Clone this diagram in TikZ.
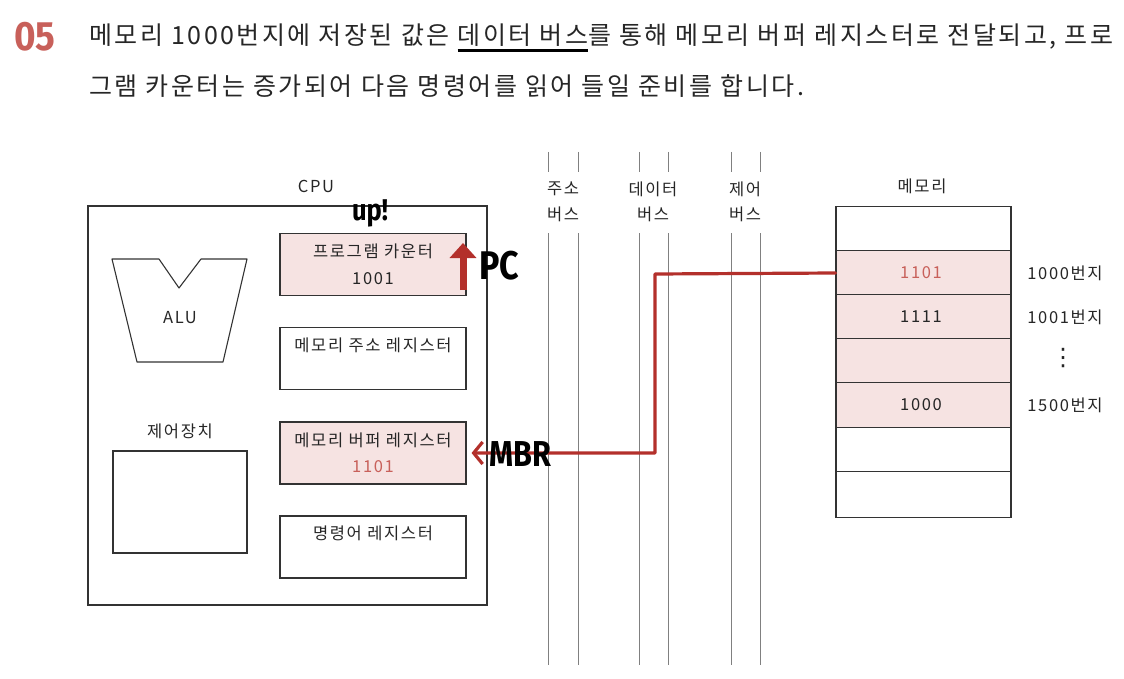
\documentclass[tikz,border=0pt]{standalone}
\usepackage{fontspec}
\setmainfont{Noto Sans CJK KR}
\newfontfamily\parafont[LetterSpace=10]{Noto Sans CJK KR}
\newfontfamily\lblfont[LetterSpace=10]{Noto Sans CJK KR}
\newfontfamily\handfont[FakeStretch=0.85]{Fira Sans}
\newfontfamily\numfont[FakeStretch=0.9]{Fira Sans}
\newfontfamily\symfont{DejaVu Sans}
\usetikzlibrary{arrows.meta}
\definecolor{redline}{HTML}{B3302B}
\definecolor{pinkfill}{HTML}{F6E3E2}
\definecolor{numred}{HTML}{C8605A}
\definecolor{boxline}{HTML}{333333}
\definecolor{busline}{HTML}{808080}
\definecolor{txt}{HTML}{262626}
\newcommand\myul[1]{\setbox0\hbox{#1}\rlap{\raisebox{-7pt}{\color{black}\rule{\wd0}{2.8pt}}}\box0}
\tikzset{
  box/.style={draw=boxline, line width=1.1pt, inner sep=0pt},
  regbox/.style={box, minimum width=186pt, minimum height=62pt},
  membox/.style={box, minimum width=175pt, minimum height=44.3pt},
  lbl/.style={text=txt, font=\lblfont\fontsize{16.5}{16.5}\selectfont, inner sep=0pt},
  para/.style={text=txt, font=\parafont\fontsize{25}{25}\selectfont, inner sep=0pt, anchor=west},
  hand/.style={font=\handfont\bfseries\fontsize{#1}{#1}\selectfont, inner sep=0pt},
  bus/.style={draw=busline, line width=0.9pt},
  redarrow/.style={draw=redline, line width=3.2pt, line cap=round, line join=round, -{Straight Barb[length=9pt,width=22pt,line width=3.2pt]}}
}
\begin{document}
\begin{tikzpicture}[x=1pt,y=-1pt]
\useasboundingbox (0,0) rectangle (1124,679);
% heading
\node[text=numred, font=\numfont\bfseries\fontsize{41}{41}\selectfont, inner sep=0pt, anchor=west] (num) at (14,37) {05};
\node[para] (l1) at (89,38) {메모리 1000번지에 저장된 값은 \myul{데이터 버스}를 통해 메모리 버퍼 레지스터로 전달되고, 프로};
\node[para] (l2) at (89,86) {그램 카운터는 증가되어 다음 명령어를 읽어 들일 준비를 합니다.};

% CPU
\node[lbl] (cpulbl) at (316,186) {CPU};
\node[box, minimum width=399pt, minimum height=399pt] (cpu) at (287.5,405.5) {};
% ALU
\draw[draw=boxline, line width=1.1pt, line join=round] (112,259) -- (159,259) -- (179,288) -- (201,259) -- (247,259) -- (223,362) -- (137,362) -- cycle;
\node[lbl] (alu) at (180,318) {ALU};
% control unit
\node[lbl] (ctllbl) at (180,431) {제어장치};
\node[box, minimum width=134pt, minimum height=102pt] (ctl) at (180,502) {};
% registers
\node[regbox, fill=pinkfill] (pc) at (373,264.5) {};
\node[lbl] (pct) at (373,251) {프로그램 카운터};
\node[lbl] (pcv) at (373,279) {1001};
\node[regbox] (mar) at (373,358.5) {};
\node[lbl] (mart) at (373,345) {메모리 주소 레지스터};
\node[regbox, fill=pinkfill] (mbr) at (373,453) {};
\node[lbl] (mbrt) at (373,440) {메모리 버퍼 레지스터};
\node[lbl, text=numred] (mbrv) at (373,467) {1101};
\node[regbox] (ir) at (373,547) {};
\node[lbl] (irt) at (373,533) {명령어 레지스터};

% buses
\foreach \x in {548,578,639,668,731,760}{
  \draw[bus] (\x,152) -- (\x,172);
  \draw[bus] (\x,233) -- (\x,665);
}
\node[lbl] (ab1) at (563,189) {주소};
\node[lbl] (ab2) at (563,214) {버스};
\node[lbl] (db1) at (653,189) {데이터};
\node[lbl] (db2) at (653,214) {버스};
\node[lbl] (cb1) at (745,189) {제어};
\node[lbl] (cb2) at (745,214) {버스};

% memory
\node[lbl] (memlbl) at (922,186) {메모리};
\node[membox] (m0) at (923.5,229) {};
\node[membox, fill=pinkfill] (m1) at (923.5,273) {};
\node[membox, fill=pinkfill] (m2) at (923.5,317) {};
\node[membox, fill=pinkfill] (m3) at (923.5,361) {};
\node[membox, fill=pinkfill] (m4) at (923.5,405) {};
\node[membox] (m5) at (923.5,449.5) {};
\node[box, minimum width=175pt, minimum height=46pt] (m6) at (923.5,494.65) {};
\node[lbl, text=numred] (v1) at (921,273) {1101};
\node[lbl] (v2) at (921,317) {1111};
\node[lbl] (v4) at (921,405) {1000};
\node[lbl] (a1) at (1065,273) {1000번지};
\node[lbl] (a2) at (1065,317) {1001번지};
\node[text=txt, font=\symfont\fontsize{24}{24}\selectfont, inner sep=0pt] (a3) at (1063,358) {⋮};
\node[lbl] (a4) at (1065,405) {1500번지};

% red data path
\coordinate (b1) at (655,274);
\coordinate (b2) at (655,453);
\draw[redarrow, shorten >=5pt] (m1.west) -- (b1) -- (b2) -- (mbr.east);
\node[hand=36] (mbrlbl) at (520,454) {MBR};

% PC increment
\coordinate (pcs) at (463,290);
\coordinate (pce) at (463,243);
\draw[draw=redline, line width=7pt, -{Triangle[length=15pt,width=26pt]}] (pcs) -- (pce);
\node[hand=40] (pclbl) at (499,266) {PC};
\node[hand=30] (up) at (370,213) {up!};
\end{tikzpicture}
\end{document}
